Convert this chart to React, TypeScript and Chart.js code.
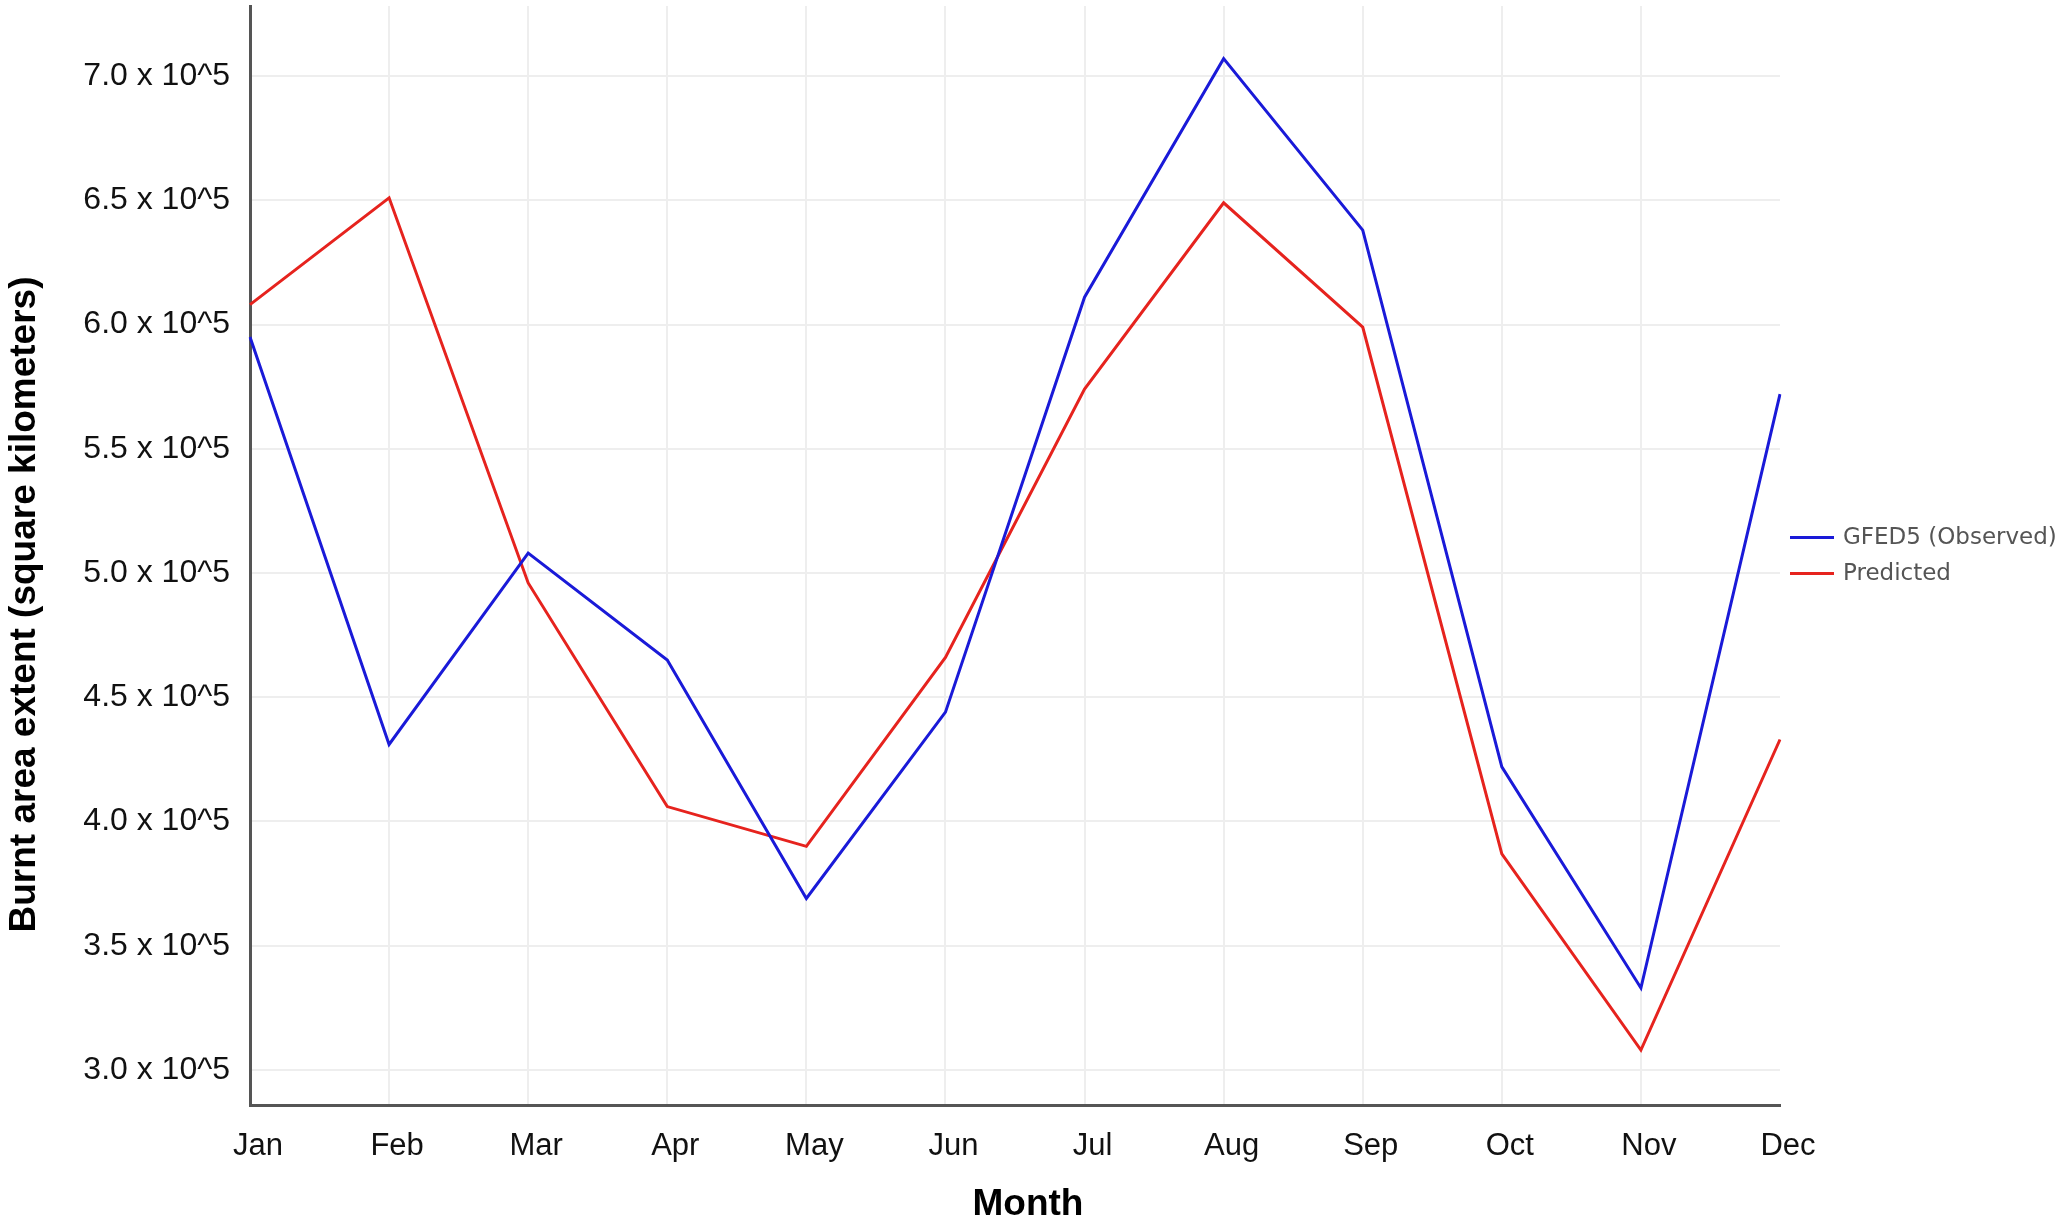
import React, { useEffect, useRef } from "react";
import { Chart, registerables } from "chart.js";

Chart.register(...registerables);

const months = ["Jan", "Feb", "Mar", "Apr", "May", "Jun", "Jul", "Aug", "Sep", "Oct", "Nov", "Dec"];
const observed = [595000, 431000, 508000, 465000, 369000, 444000, 611000, 707000, 638000, 422000, 333000, 572000];
const predicted = [608000, 651000, 496000, 406000, 390000, 466000, 574000, 649000, 599000, 387000, 308000, 433000];
const yTickValues = [300000, 350000, 400000, 450000, 500000, 550000, 600000, 650000, 700000];
const seriesLabels = ["GFED5 (Observed)", "Predicted"];
const seriesColors = ["#1a1ad8", "#e6231e"];
const yTitle = "Burnt area extent (square kilometers)";
const xTitle = "Month";

const W = 2067;
const H = 1222;

const overlayPlugin = {
  id: "overlay",
  afterDraw(chart: any) {
    const { ctx, chartArea } = chart;
    ctx.save();
    const cy = (chartArea.top + chartArea.bottom) / 2;
    chart.data.datasets.forEach((ds: any, i: number) => {
      const y = cy - 18 + i * 36;
      const x0 = chartArea.right + 10;
      ctx.strokeStyle = ds.borderColor;
      ctx.lineWidth = 3;
      ctx.beginPath();
      ctx.moveTo(x0, y);
      ctx.lineTo(x0 + 44, y);
      ctx.stroke();
      ctx.fillStyle = "#555555";
      ctx.font = "23px 'DejaVu Sans'";
      ctx.textAlign = "left";
      ctx.textBaseline = "middle";
      ctx.fillText(ds.label, x0 + 53, y + 1);
    });
    ctx.fillStyle = "#000000";
    ctx.font = "bold 37px 'Liberation Sans'";
    ctx.textAlign = "center";
    ctx.textBaseline = "middle";
    ctx.fillText(xTitle, (chartArea.left + chartArea.right) / 2 + 13, H - 17);
    ctx.save();
    ctx.translate(25, cy + 49);
    ctx.rotate(-Math.PI / 2);
    ctx.fillText(yTitle, 0, 0);
    ctx.restore();
    ctx.restore();
  },
};

export default function App() {
  const ref = useRef<HTMLCanvasElement | null>(null);
  useEffect(() => {
    if (!ref.current) return;
    const chart = new Chart(ref.current, {
      type: "line",
      data: {
        labels: months,
        datasets: [
          {
            label: seriesLabels[0],
            data: observed,
            borderColor: seriesColors[0],
            backgroundColor: seriesColors[0],
            borderWidth: 3,
            pointRadius: 0,
            tension: 0,
          },
          {
            label: seriesLabels[1],
            data: predicted,
            borderColor: seriesColors[1],
            backgroundColor: seriesColors[1],
            borderWidth: 3,
            pointRadius: 0,
            tension: 0,
          },
        ],
      },
      options: {
        responsive: false,
        animation: false,
        devicePixelRatio: 1,
        layout: { padding: { top: 6, right: W - 1780, bottom: 0, left: 0 } },
        plugins: {
          legend: { display: false },
          tooltip: { enabled: false },
        },
        scales: {
          x: {
            grid: {
              color: (c: any) => (c.index === months.length - 1 ? "rgba(0,0,0,0)" : "#eeeeee"),
              lineWidth: 2,
              drawTicks: false,
            },
            border: { display: true, color: "#555555", width: 3 },
            ticks: {
              color: "#111111",
              font: { family: "'Liberation Sans'", size: 31 },
              padding: 23,
              labelOffset: 8,
              maxRotation: 0,
              autoSkip: false,
            },
            afterFit: (s: any) => {
              s.height = H - 1105;
              s.paddingLeft = 0;
              s.paddingRight = 0;
            },
          },
          y: {
            min: 285900,
            max: 728200,
            grid: { color: "#eeeeee", lineWidth: 2, drawTicks: false },
            border: { display: true, color: "#555555", width: 3 },
            afterBuildTicks: (s: any) => {
              s.ticks = yTickValues.map((v) => ({ value: v }));
            },
            ticks: {
              color: "#111111",
              font: { family: "'Liberation Sans'", size: 32 },
              padding: 20,
              callback: (v: any) => (Number(v) / 100000).toFixed(1) + " x 10^5",
            },
            afterFit: (s: any) => {
              s.width = 250;
              s.paddingTop = 0;
              s.paddingBottom = 0;
            },
          },
        },
      },
      plugins: [overlayPlugin],
    });
    return () => chart.destroy();
  }, []);
  return (
    <div style={{ position: "fixed", left: 0, top: 0, width: W, height: H, background: "#ffffff" }}>
      <canvas ref={ref} width={W} height={H} style={{ display: "block" }} />
    </div>
  );
}
